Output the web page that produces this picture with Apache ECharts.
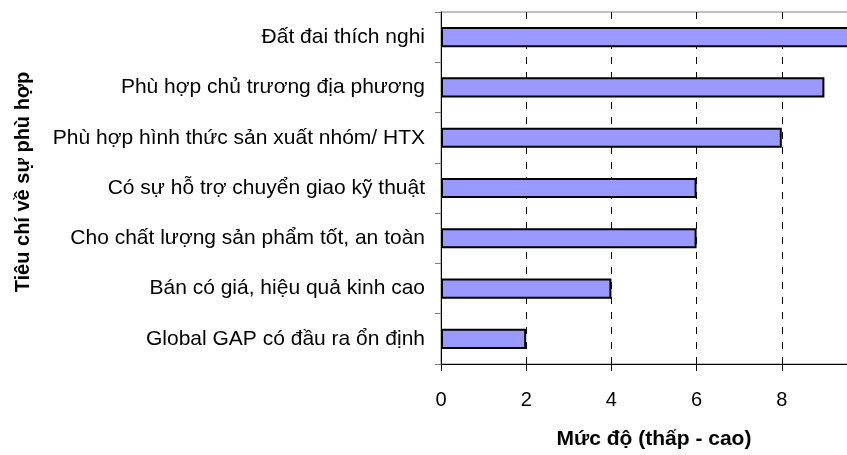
<!DOCTYPE html>
<html>
<head>
<meta charset="utf-8">
<script src="https://cdn.jsdelivr.net/npm/echarts@6/dist/echarts.min.js"></script>
<style>
  html, body { margin: 0; padding: 0; background: #fff; overflow: hidden; }
  /* the plot continues a little past the visible window on the right */
  #chart { width: 870px; height: 455px; }
</style>
</head>
<body>
<div id="chart"></div>
<script>
// Criteria (top to bottom) and their scores
const criteria = [
  'Đất đai thích nghi',
  'Phù hợp chủ trương địa phương',
  'Phù hợp hình thức sản xuất nhóm/ HTX',
  'Có sự hỗ trợ chuyển giao kỹ thuật',
  'Cho chất lượng sản phẩm tốt, an toàn',
  'Bán có giá, hiệu quả kinh cao',
  'Global GAP có đầu ra ổn định'
];
const scores = [10, 9, 8, 6, 6, 4, 2];
const xTicks = [0, 2, 4, 6, 8];

const FONT = '"Liberation Sans", Arial, sans-serif';

const chart = echarts.init(document.getElementById('chart'), null, { renderer: 'canvas' });

chart.setOption({
  animation: false,
  backgroundColor: '#ffffff',
  grid: {
    left: 441,
    top: 12,
    bottom: 89,
    right: 0,
    show: true,
    borderColor: '#808080',
    borderWidth: 1,
    containLabel: false
  },
  xAxis: {
    type: 'value',
    min: 0,
    max: 10,
    interval: 2,
    name: 'Mức độ (thấp - cao)',
    nameLocation: 'middle',
    nameGap: 65,
    nameTextStyle: { fontFamily: FONT, fontSize: 21, fontWeight: 'bold', color: '#000' },
    axisLine: { show: true, lineStyle: { color: '#000', width: 1 } },
    axisTick: { show: true, length: 7, lineStyle: { color: '#000' } },
    axisLabel: {
      fontFamily: FONT, fontSize: 20, color: '#000', margin: 26,
      formatter: v => (xTicks.indexOf(v) >= 0 ? String(v) : '')
    },
    splitLine: {
      show: true,
      lineStyle: { color: '#000', width: 1, type: [7, 8] }
    }
  },
  yAxis: {
    type: 'category',
    data: criteria,
    inverse: true,
    name: 'Tiêu chí về sự phù hợp',
    nameLocation: 'middle',
    nameGap: 408,
    nameRotate: 90,
    nameTextStyle: {
      fontFamily: FONT, fontSize: 20, fontWeight: 'bold', color: '#000',
      padding: [0, 0, 0, 12]
    },
    axisLine: { show: true, lineStyle: { color: '#000', width: 1 } },
    axisTick: { show: true, length: 6, lineStyle: { color: '#808080' } },
    axisLabel: { fontFamily: FONT, fontSize: 21, color: '#000', margin: 16 },
    splitLine: { show: false }
  },
  series: [{
    type: 'bar',
    data: scores,
    barCategoryGap: '60%',
    itemStyle: { color: '#9999FF', borderColor: '#000', borderWidth: 2 }
  }]
});
</script>
</body>
</html>
